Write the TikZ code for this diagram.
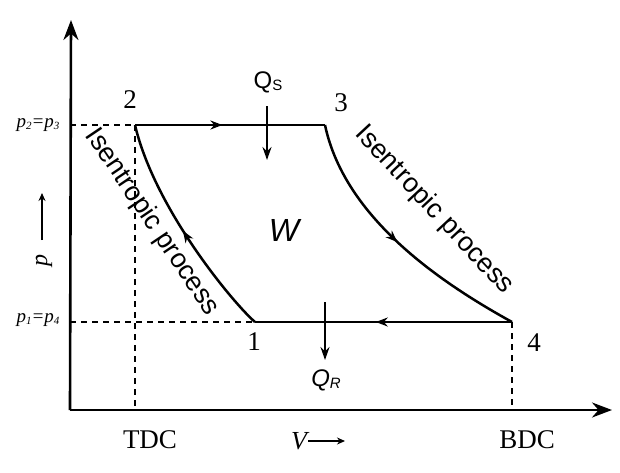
\documentclass[tikz,border=0pt]{standalone}
\usepackage{fontspec}
\setmainfont{Liberation Serif}
\setsansfont{Liberation Sans}
\usetikzlibrary{arrows.meta,decorations.markings}
\begin{document}
\begin{tikzpicture}[x=1pt,y=-1pt,
  main/.style={line width=2.5pt},
  dashln/.style={line width=2.2pt,dash pattern=on 6pt off 5pt},
  midarrow/.style={postaction={decorate},decoration={markings,mark=at position #1 with {\arrow{Stealth[length=12pt,width=9pt]}}}},
  num/.style={font=\fontsize{27}{27}\selectfont},
  sf/.style={font=\sffamily\fontsize{27}{27}\selectfont},
  qlab/.style={font=\sffamily\fontsize{24}{24}\selectfont, inner sep=0pt},
  plab/.style={font=\itshape\fontsize{19}{19}\selectfont, inner sep=0pt},
  axis/.style={line width=2.6pt,-{Stealth[length=20pt,width=15pt]}},
  heat/.style={line width=2.2pt,-{Stealth[length=13pt,width=9pt]}},
  lblarrow/.style={line width=1.6pt,-{Stealth[length=8pt,width=7pt]}}
]
\useasboundingbox (0,0) rectangle (620,472);
% key points
\coordinate (o) at (70,410);
\coordinate (ytop) at (71,20);
\coordinate (xend) at (612,410);
\coordinate (p2) at (135,125);
\coordinate (p3) at (325,125);
\coordinate (p4) at (512,322);
\coordinate (p1) at (255,322);
\coordinate (y23) at (70,125);
\coordinate (y14) at (70,322);
\coordinate (tdc) at (135,410);
\coordinate (bdc) at (512,410);
% axes
\draw[axis] (o) -- (ytop);
\draw[axis] (o) -- (xend);
% dashed guides
\draw[dashln] (y23) -- (p2);
\draw[dashln] (y14) -- (p1);
\draw[dashln] (p2) -- (tdc);
\draw[dashln] (p4) -- (bdc);
% cycle
\draw[main,midarrow=0.46] (p2) -- (p3);
\draw[main,midarrow=0.53] (p4) -- (p1);
\draw[main,midarrow=0.5] (p1) .. controls (235,305) and (155,210) .. (p2);
\draw[main,midarrow=0.5] (p3) .. controls (345,220) and (445,285) .. (p4);
% heat arrows
\coordinate (qs1) at (267,106);
\coordinate (qs2) at (267,160);
\coordinate (qr1) at (325,302);
\coordinate (qr2) at (325,360);
\draw[heat] (qs1) -- (qs2);
\draw[heat] (qr1) -- (qr2);
% labels
\node[num] (l2) at (130,100) {2};
\node[num] (l3) at (341,103) {3};
\node[num] (l4) at (534,343) {4};
\node[num] (l1) at (254,342) {1};
\node[qlab] (qs) at (268,82) {Q\raisebox{-2pt}{\fontsize{15}{15}\selectfont S}};
\node[qlab] (qr) at (326,380) {\itshape Q\raisebox{-2pt}{\fontsize{15}{15}\selectfont R}};
\node[font=\sffamily\itshape\fontsize{32}{32}\selectfont] (w) at (284,230) {W};
\node[sf,rotate=-56] (iso1) at (152,222) {Isentropic process};
\node[sf,rotate=-47] (iso2) at (434,210) {Isentropic process};
\node[plab] (pa) at (38,125) {p\raisebox{-2pt}{\fontsize{11}{11}\selectfont 2}=p\raisebox{-2pt}{\fontsize{11}{11}\selectfont 3}};
\node[plab] (pb) at (38,320) {p\raisebox{-2pt}{\fontsize{11}{11}\selectfont 1}=p\raisebox{-2pt}{\fontsize{11}{11}\selectfont 4}};
% axis quantity labels with arrows
\node[rotate=90,font=\itshape\fontsize{24}{24}\selectfont] (pax) at (44,260) {p};
\coordinate (pa1) at (42,240);
\coordinate (pa2) at (42,193);
\draw[lblarrow] (pa1) -- (pa2);
\node[font=\itshape\fontsize{26}{26}\selectfont] (vax) at (299,441) {V};
\coordinate (va1) at (308,441);
\coordinate (va2) at (345,441);
\draw[lblarrow] (va1) -- (va2);
\node[num] (tdcl) at (150,440) {TDC};
\node[num] (bdcl) at (527,440) {BDC};
\end{tikzpicture}
\end{document}
